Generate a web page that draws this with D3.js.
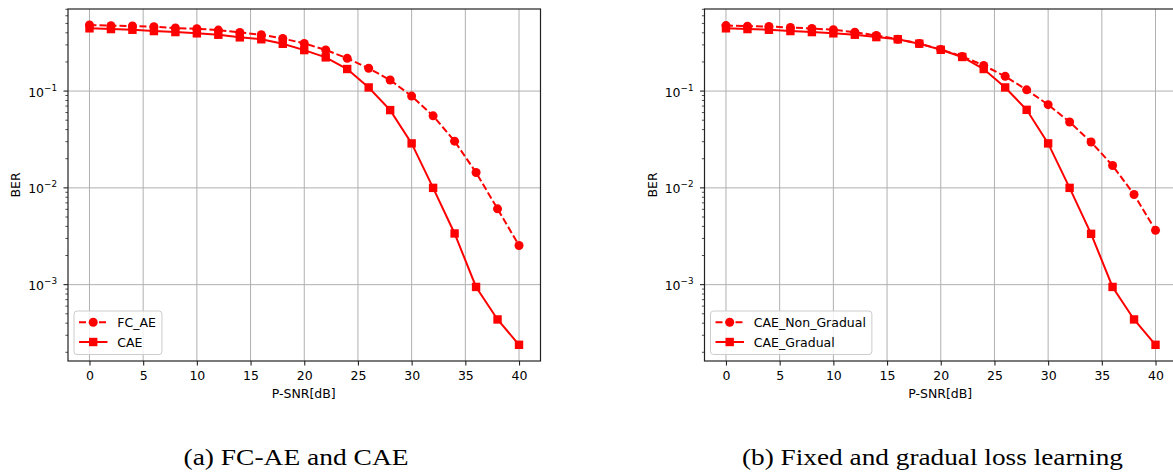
<!DOCTYPE html>
<html>
<head>
<meta charset="utf-8">
<script src="https://cdn.jsdelivr.net/npm/d3@7"></script>
<style>
  body { margin: 0; background: #fff; }
  svg text { font-family: "DejaVu Sans", sans-serif; fill: #000; }
</style>
</head>
<body>
<svg id="chart" width="1173" height="472"></svg>
<script>
// values
const snr = [0, 2, 4, 6, 8, 10, 12, 14, 16, 18, 20, 22, 24, 26, 28, 30, 32, 34, 36, 38, 40]

const fcAE = [0.482, 0.473, 0.470, 0.462, 0.448, 0.440, 0.427, 0.404, 0.382, 0.349, 0.311,
              0.266, 0.218, 0.172, 0.130, 0.0888, 0.0555, 0.0304, 0.0144, 0.00607, 0.00254]
const cae = [0.445, 0.437, 0.430, 0.417, 0.407, 0.395, 0.382, 0.359, 0.343, 0.308, 0.265,
             0.223, 0.169, 0.109, 0.0636, 0.0288, 0.0100, 0.00338, 0.000947, 0.000437, 0.000239]

const caeNonGradual = [0.475, 0.468, 0.465, 0.454, 0.443, 0.430, 0.406, 0.375, 0.343, 0.310, 0.269,
                       0.228, 0.184, 0.142, 0.103, 0.0724, 0.0479, 0.0298, 0.0170, 0.00855, 0.00364]
const caeGradual = [0.445, 0.437, 0.430, 0.417, 0.407, 0.395, 0.382, 0.361, 0.343, 0.309, 0.267,
                    0.225, 0.169, 0.109, 0.0640, 0.0288, 0.0100, 0.00335, 0.000947, 0.000437, 0.000239]

const xTicks = [0, 5, 10, 15, 20, 25, 30, 35, 40]
const yTicks = [1e-1, 1e-2, 1e-3]
const yTickExp = ['\u22121', '\u22122', '\u22123']

const panelsDef = [
    { left: 68, series: [fcAE, cae], names: ['FC_AE', 'CAE'], caption: '(a) FC-AE and CAE', capX: 296, capW: 225 },
    { left: 704.5, series: [caeNonGradual, caeGradual], names: ['CAE_Non_Gradual', 'CAE_Gradual'], caption: '(b) Fixed and gradual loss learning', capX: 932.5, capW: 381 }
]

const TOP = 9
const BOTTOM = 361
const PW = 472.5
const RED = '#ff0000'

const svg = d3.select('#chart')

function drawPanel (p) {
    const x = d3.scaleLinear().domain([-2, 42]).range([p.left, p.left + PW])
    const y = d3.scaleLog().domain([1.626e-4, 0.7047]).range([BOTTOM, TOP])
    const g = svg.append('g')

    const allY = y.ticks()
    const minorY = allY.filter(v => Math.abs(Math.log10(v) - Math.round(Math.log10(v))) > 1e-6)

    // grid
    g.append('g').selectAll('line.vx')
        .data(xTicks)
        .join('line')
            .attr('x1', d => x(d)).attr('x2', d => x(d))
            .attr('y1', TOP).attr('y2', BOTTOM)
            .attr('stroke', '#b0b0b0').attr('stroke-width', 1)
    g.append('g').selectAll('line.hy')
        .data(yTicks)
        .join('line')
            .attr('x1', p.left).attr('x2', p.left + PW)
            .attr('y1', d => y(d)).attr('y2', d => y(d))
            .attr('stroke', '#b0b0b0').attr('stroke-width', 1)

    // series
    const line = d3.line().x((d, i) => x(snr[i])).y(d => y(d))
    const clip = 'clip' + Math.round(p.left)
    svg.append('clipPath').attr('id', clip)
        .append('rect').attr('x', p.left).attr('y', TOP).attr('width', PW).attr('height', BOTTOM - TOP)
    const sg = g.append('g').attr('clip-path', `url(#${clip})`)

    p.series.forEach((vals, si) => {
        sg.append('path')
            .attr('d', line(vals))
            .attr('fill', 'none')
            .attr('stroke', RED)
            .attr('stroke-width', 2)
            .attr('stroke-dasharray', si === 0 ? '7,3' : null)
        if (si === 0) {
            sg.append('g').selectAll('circle')
                .data(vals)
                .join('circle')
                    .attr('cx', (d, i) => x(snr[i]))
                    .attr('cy', d => y(d))
                    .attr('r', 4.5)
                    .attr('fill', RED)
        } else {
            sg.append('g').selectAll('rect')
                .data(vals)
                .join('rect')
                    .attr('x', (d, i) => x(snr[i]) - 4.2)
                    .attr('y', d => y(d) - 4.2)
                    .attr('width', 8.4).attr('height', 8.4)
                    .attr('fill', RED)
        }
    })

    // spines
    g.append('rect')
        .attr('x', p.left).attr('y', TOP)
        .attr('width', PW).attr('height', BOTTOM - TOP)
        .attr('fill', 'none').attr('stroke', '#222').attr('stroke-width', 1.2)

    // x axis
    const xa = g.append('g').attr('transform', `translate(0,${BOTTOM})`)
        .call(d3.axisBottom(x).tickValues(xTicks).tickSize(4.5).tickSizeOuter(0).tickPadding(5))
    xa.select('.domain').remove()
    xa.selectAll('line').attr('stroke', '#222').attr('stroke-width', 1.1)
    xa.selectAll('text').attr('font-size', '12.5px').attr('font-family', 'DejaVu Sans').attr('dy', '0.72em')

    // y axis ticks
    g.append('g').selectAll('line')
        .data(allY)
        .join('line')
            .attr('x1', p.left).attr('x2', d => minorY.includes(d) ? p.left - 2.6 : p.left - 4.5)
            .attr('y1', d => y(d)).attr('y2', d => y(d))
            .attr('stroke', '#222').attr('stroke-width', d => minorY.includes(d) ? 0.8 : 1.1)

    const yl = g.append('g').selectAll('text')
        .data(yTicks)
        .join('text')
            .attr('x', p.left - 11)
            .attr('y', d => y(d) + 5.5)
            .attr('text-anchor', 'end')
            .attr('font-size', '12.5px')
    yl.append('tspan').text('10')
    yl.append('tspan')
        .attr('font-size', '8.8px')
        .attr('dy', -6)
        .text((d, i) => yTickExp[i])

    // axis labels
    g.append('text')
        .attr('x', p.left + PW / 2 - 0.5)
        .attr('y', 398)
        .attr('text-anchor', 'middle')
        .attr('font-size', '12.5px')
        .text('P-SNR[dB]')
    g.append('text')
        .attr('transform', `translate(${p.left - 48},${(TOP + BOTTOM) / 2}) rotate(-90)`)
        .attr('text-anchor', 'middle')
        .attr('font-size', '12.5px')
        .text('BER')

    // legend
    const lg = g.append('g')
    const lx = p.left + 6
    const frame = lg.append('rect')
        .attr('x', lx).attr('y', 311)
        .attr('height', 43.5)
        .attr('rx', 3)
        .attr('fill', 'white').attr('fill-opacity', 0.8)
        .attr('stroke', '#cccccc').attr('stroke-width', 1)
    let maxW = 0
    p.names.forEach((name, si) => {
        const ly = 322.3 + si * 19.7
        lg.append('line')
            .attr('x1', lx + 5).attr('x2', lx + 33.5)
            .attr('y1', ly).attr('y2', ly)
            .attr('stroke', RED).attr('stroke-width', 2)
            .attr('stroke-dasharray', si === 0 ? '7,3' : null)
        if (si === 0) {
            lg.append('circle').attr('cx', lx + 19.2).attr('cy', ly).attr('r', 4.5).attr('fill', RED)
        } else {
            lg.append('rect').attr('x', lx + 15).attr('y', ly - 4.2).attr('width', 8.4).attr('height', 8.4).attr('fill', RED)
        }
        const t = lg.append('text')
            .attr('x', lx + 43.3)
            .attr('y', ly + 4.5)
            .attr('font-size', '12.5px')
            .text(name)
        maxW = Math.max(maxW, t.node().getComputedTextLength())
    })
    frame.attr('width', 43.3 + maxW + 6)

    // caption
    svg.append('text')
        .attr('x', p.capX)
        .attr('y', 465)
        .attr('text-anchor', 'middle')
        .attr('font-family', '"Liberation Serif", "Times New Roman", serif')
        .attr('font-size', '23px')
        .attr('textLength', p.capW)
        .attr('lengthAdjust', 'spacingAndGlyphs')
        .style('font-family', '"Liberation Serif", "Times New Roman", serif')
        .text(p.caption)
}

panelsDef.forEach(drawPanel)
</script>
</body>
</html>
